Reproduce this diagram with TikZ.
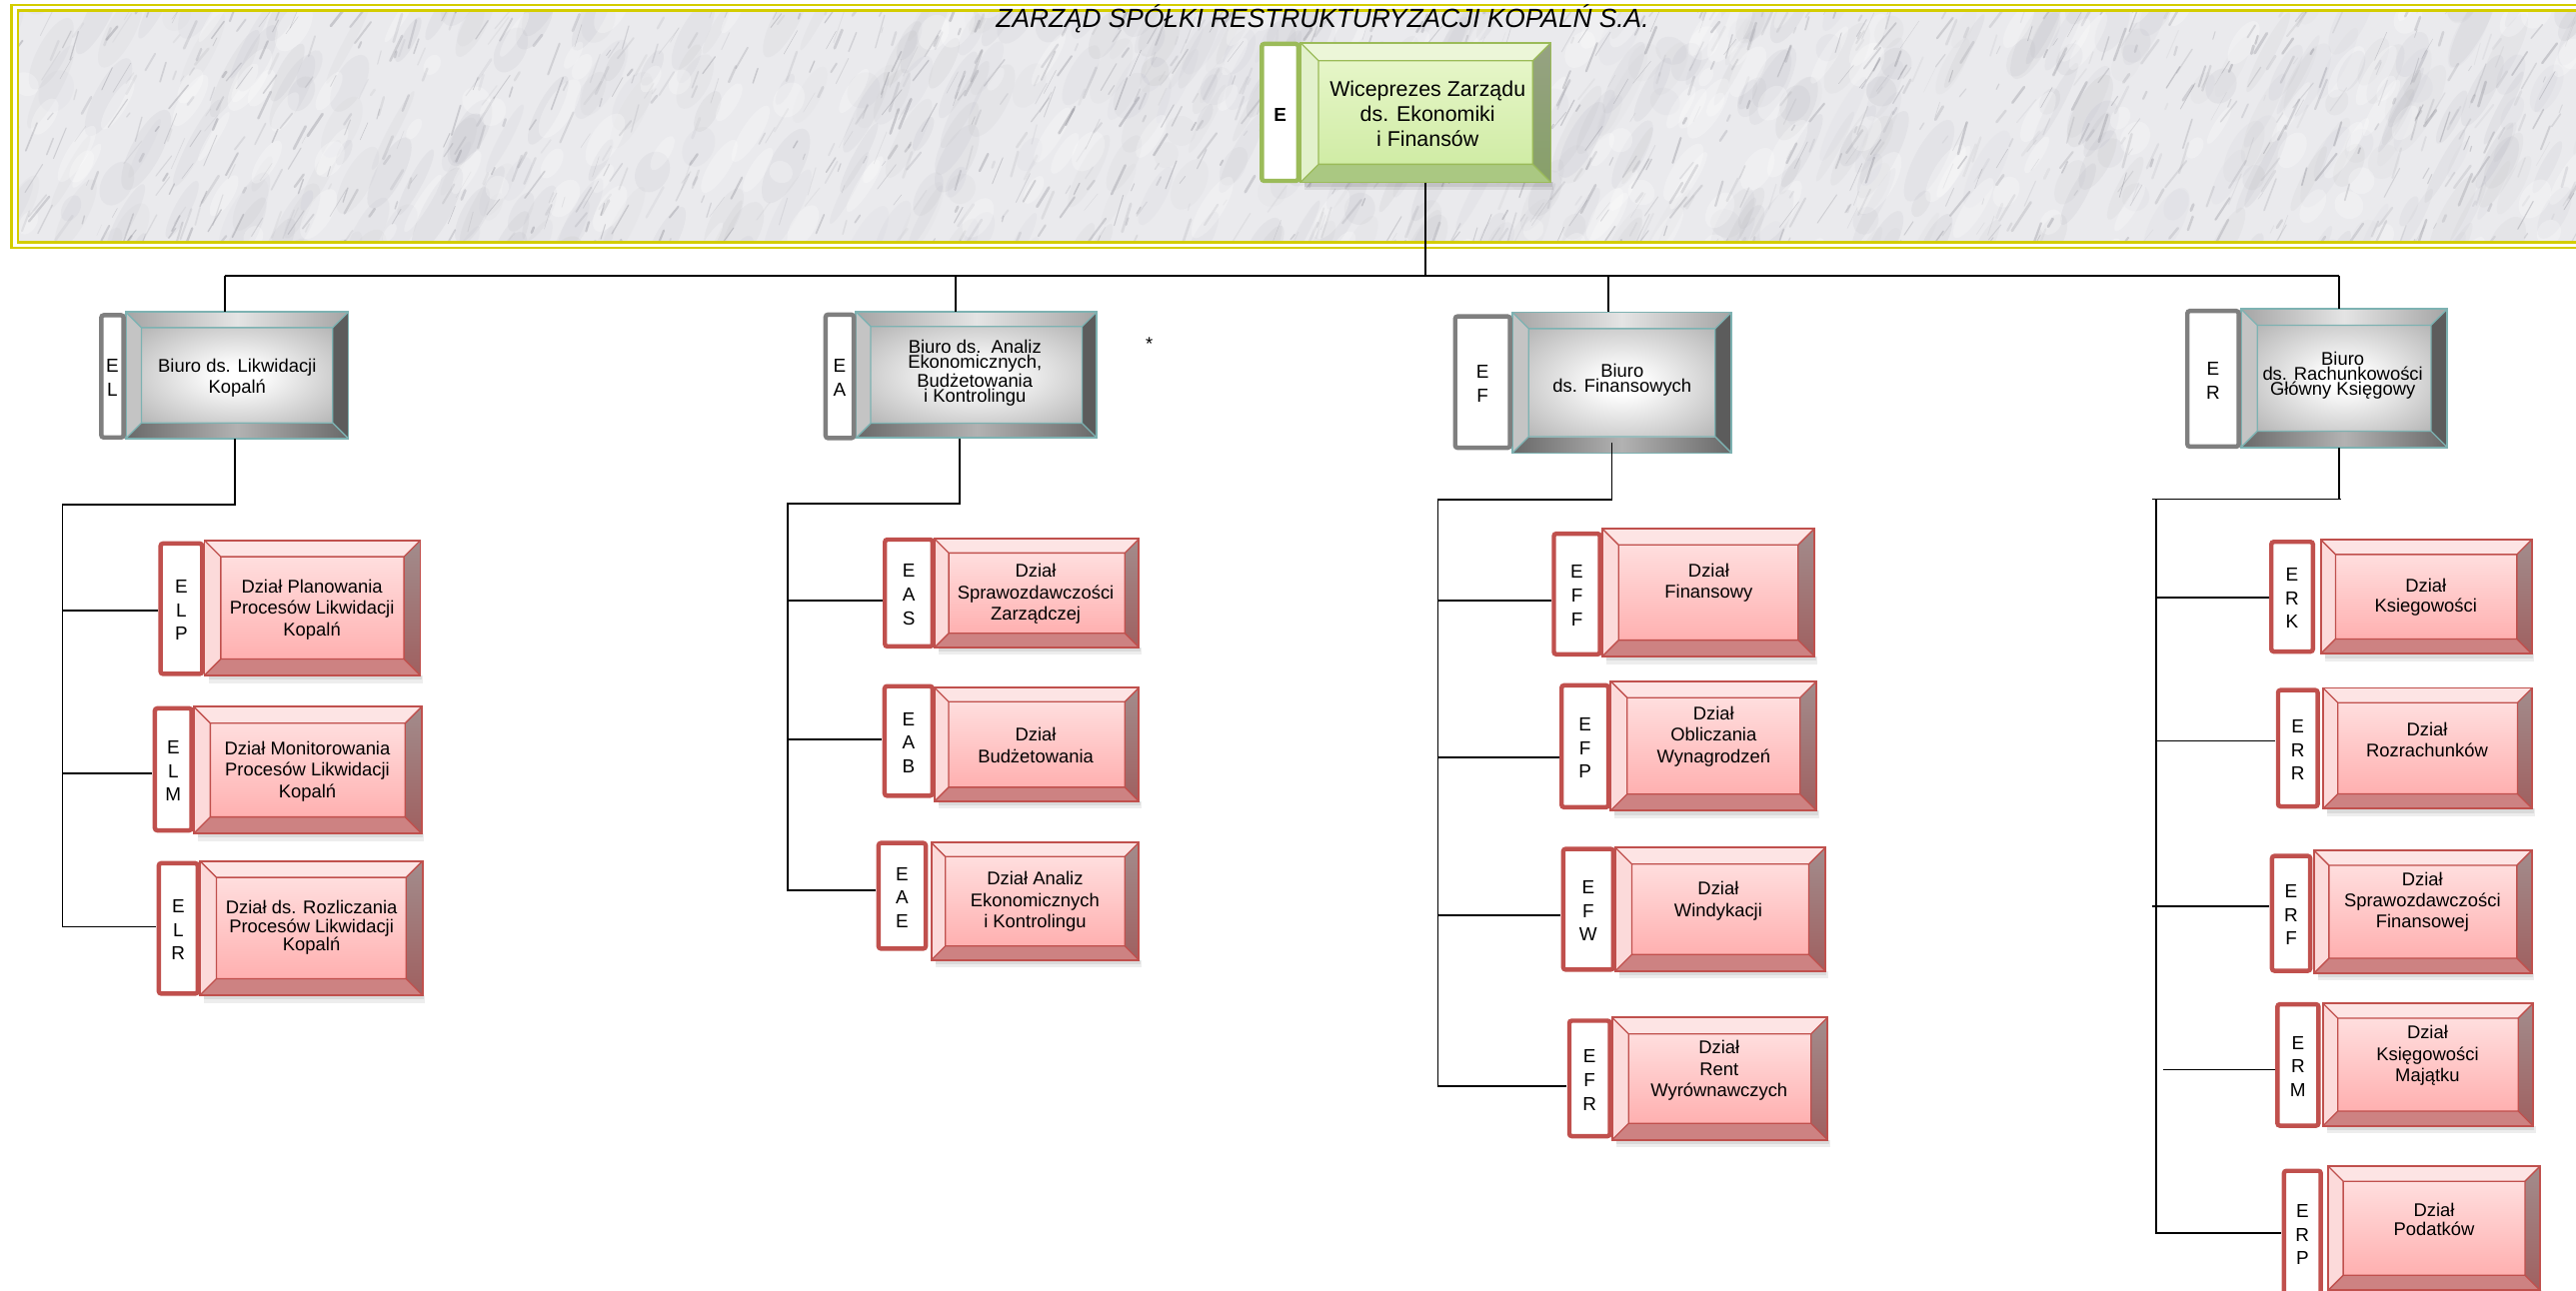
\documentclass[tikz,border=0pt]{standalone}
\usepackage{fontspec}
\setmainfont{Liberation Sans}
\usetikzlibrary{fit,calc}

\definecolor{ylw}{RGB}{212,205,0}
\definecolor{marbleBase}{RGB}{234,234,237}
\definecolor{marbleCloud}{RGB}{165,165,175}
\definecolor{marbleVein}{RGB}{115,115,125}
% red palette
\definecolor{rTop}{RGB}{253,228,228}
\definecolor{rLeft}{RGB}{252,218,218}
\definecolor{rRightT}{RGB}{162,140,140}
\definecolor{rRightB}{RGB}{160,96,96}
\definecolor{rBot}{RGB}{205,130,130}
\definecolor{rFaceT}{RGB}{255,222,222}
\definecolor{rFaceB}{RGB}{255,176,176}
\definecolor{rLine}{RGB}{192,80,77}
% gray palette
\definecolor{gTopS}{RGB}{165,165,165}
\definecolor{gTopM}{RGB}{228,228,228}
\definecolor{gLeft}{RGB}{196,196,196}
\definecolor{gRight}{RGB}{92,92,92}
\definecolor{gBotS}{RGB}{105,105,105}
\definecolor{gBotM}{RGB}{178,178,178}
\definecolor{gFaceM}{RGB}{185,185,185}
\definecolor{gFaceO}{RGB}{150,150,150}
\definecolor{gLine}{RGB}{125,178,178}
\definecolor{gLab}{RGB}{127,127,127}
% green palette
\definecolor{vTop}{RGB}{236,246,216}
\definecolor{vLeft}{RGB}{226,241,203}
\definecolor{vRightT}{RGB}{150,162,130}
\definecolor{vRightB}{RGB}{135,160,105}
\definecolor{vBot}{RGB}{170,200,130}
\definecolor{vFaceT}{RGB}{230,246,200}
\definecolor{vFaceB}{RGB}{208,236,165}
\definecolor{vLine}{RGB}{155,187,89}

\pgfdeclareradialshading{grayface}{\pgfpoint{0bp}{0bp}}{%
  color(0bp)=(white); color(5bp)=(white); color(34bp)=(gFaceM); color(50bp)=(gFaceO)}

\tikzset{
  conn/.style={draw=black,line width=1.1pt},
  btxt/.style={font=\fontsize{11.2}{#1}\selectfont,align=center,inner sep=0pt,text=black},
  btxt/.default=13.2,
  lettr/.style={font=\fontsize{11.5}{14.4}\selectfont,align=center,inner sep=0pt},
  red-top/.style={fill=rTop}, red-left/.style={fill=rLeft},
  red-right/.style={top color=rRightT,bottom color=rRightB},
  red-bottom/.style={fill=rBot},
  red-face/.style={top color=rFaceT,bottom color=rFaceB},
  red-line/.style={draw=rLine}, red-lab/.style={draw=rLine},
  gray-top/.style={left color=gTopS,right color=gTopS,middle color=gTopM},
  gray-left/.style={fill=gLeft}, gray-right/.style={fill=gRight},
  gray-bottom/.style={left color=gBotS,right color=gBotS,middle color=gBotM},
  gray-face/.style={shade,shading=grayface},
  gray-line/.style={draw=gLine}, gray-lab/.style={draw=gLab},
  green-top/.style={fill=vTop}, green-left/.style={fill=vLeft},
  green-right/.style={top color=vRightT,bottom color=vRightB},
  green-bottom/.style={fill=vBot},
  green-face/.style={top color=vFaceT,bottom color=vFaceB},
  green-line/.style={draw=vLine}, green-lab/.style={draw=vLine},
}

% #1 name, #2 palette, #3 x1, #4 y1, #5 x2, #6 y2, #7 inset, #8 shadow
\newcommand\bevelbox[8]{%
  \ifnum #8>0 \relax
    \fill[black,opacity=0.07] (#3+2.5,#6) rectangle (#5+1.6,#6+4.6);
    \fill[black,opacity=0.08] (#3+2.5,#6) rectangle (#5+0.8,#6+2.6);
  \fi
  \path[#2-top] (#3,#4) -- (#5,#4) -- (#5-#7,#4+#7) -- (#3+#7,#4+#7) -- cycle;
  \path[#2-bottom] (#3,#6) -- (#5,#6) -- (#5-#7,#6-#7) -- (#3+#7,#6-#7) -- cycle;
  \path[#2-left] (#3,#4) -- (#3+#7,#4+#7) -- (#3+#7,#6-#7) -- (#3,#6) -- cycle;
  \path[#2-right] (#5,#4) -- (#5-#7,#4+#7) -- (#5-#7,#6-#7) -- (#5,#6) -- cycle;
  \path[#2-face] (#3+#7,#4+#7) rectangle (#5-#7,#6-#7);
  \draw[#2-line,line width=0.8pt] (#3+#7,#4+#7) rectangle (#5-#7,#6-#7)
     (#3,#4) -- (#3+#7,#4+#7) (#5,#4) -- (#5-#7,#4+#7)
     (#3,#6) -- (#3+#7,#6-#7) (#5,#6) -- (#5-#7,#6-#7);
  \draw[#2-line,line width=1.1pt] (#3,#4) rectangle (#5,#6);
  \node[fit={(#3,#4)(#5,#6)},inner sep=0pt] (#1) {};
}
% #1 name, #2 palette, #3 x1, #4 y1, #5 x2, #6 y2, #7 letters
\newcommand\labbox[7]{%
  \draw[#2-lab,fill=white,line width=2.7pt,rounded corners=1.5pt]
     (#3+1.35,#4+1.35) rectangle (#5-1.35,#6-1.35);
  \node[fit={(#3,#4)(#5,#6)},inner sep=0pt] (#1) {};
  \node[lettr] (#1T) at ($(#1.center)+(0,1)$) {#7};
}

\begin{document}
\begin{tikzpicture}[x=1pt,y=-1pt]
\useasboundingbox (0,0) rectangle (1568,786);
\fill[white] (0,0) rectangle (1568,786);

% ---------- banner ----------
\draw[ylw,line width=1.6pt] (7,3) rectangle (1585,151);
\begin{scope}
  \clip (11,6.5) rectangle (1580,147.5);
  \fill[marbleBase] (11,6.5) rectangle (1580,147.5);
  \pgfmathsetseed{27182}
  \foreach \k in {1,...,450}{
    \pgfmathsetmacro\xa{-20+rnd*1620}
    \pgfmathsetmacro\ya{rnd*165}
    \pgfmathsetmacro\ra{8+rnd*22}
    \pgfmathsetmacro\rb{3+rnd*7}
    \pgfmathsetmacro\vo{0.04+rnd*0.08}
    \fill[marbleCloud,opacity=\vo] (\xa,\ya) ellipse [x radius=\ra, y radius=\rb, rotate=62];
  }
  \foreach \k in {1,...,170}{
    \pgfmathsetmacro\xa{rnd*1600}
    \pgfmathsetmacro\ya{rnd*160}
    \pgfmathsetmacro\ra{6+rnd*16}
    \pgfmathsetmacro\rb{3+rnd*6}
    \fill[white,opacity=0.25] (\xa,\ya) ellipse [x radius=\ra, y radius=\rb, rotate=58];
  }
  \foreach \k in {1,...,1300}{
    \pgfmathsetmacro\xa{-20+rnd*1620}
    \pgfmathsetmacro\ya{rnd*180}
    \pgfmathsetmacro\vl{3+rnd*18}
    \pgfmathsetmacro\va{-(50+rnd*25)}
    \pgfmathsetmacro\lw{0.3+rnd*1.4}
    \pgfmathsetmacro\vo{0.06+rnd*0.24}
    \draw[draw=marbleVein,line width=\lw pt,opacity=\vo,line cap=round] (\xa,\ya) -- ++(\va:\vl);
  }
\end{scope}
\draw[ylw,line width=1.6pt] (11,6.5) rectangle (1580,147.5);

\node[font=\fontsize{16}{18}\selectfont\itshape,anchor=base,inner sep=0pt] (title) at (805,16.6)
  {ZARZĄD SPÓŁKI RESTRUKTURYZACJI KOPALŃ S.A.};

% ---------- top box ----------
\bevelbox{E}{green}{791.6}{26}{944}{111}{11}{1}
\labbox{EL0}{green}{766.7}{25.4}{791.6}{111.5}{}
\node[font=\fontsize{11.5}{14}\selectfont\bfseries,inner sep=0pt] (Eletter) at (779.2,70) {E};
\node[font=\fontsize{13}{15}\selectfont,align=center,inner sep=0pt] (Etext) at (869,69.2)
  {Wiceprezes Zarządu\\ds. Ekonomiki\\i Finansów};

% ---------- level 2 (gray) ----------
\bevelbox{el}{gray}{76.6}{190}{212}{267}{9.5}{0}
\labbox{elL}{gray}{60.3}{190.6}{76.6}{267.7}{E\\L}
\node[btxt=12.8] (elT) at (144.4,229.9) {Biuro ds. Likwidacji\\Kopalń};

\bevelbox{ea}{gray}{521}{189.8}{667.7}{266.7}{9}{0}
\labbox{eaL}{gray}{501.2}{190.2}{521}{268.1}{E\\A}
\node[btxt=8] (eaT) at (593.4,226.9) {Biuro ds.\ \ Analiz\\Ekonomicznych,\\Budżetowania\\i Kontrolingu};

\bevelbox{ef}{gray}{920.5}{190.1}{1054}{275.9}{10}{0}
\labbox{efL}{gray}{884.4}{191.3}{920.5}{274}{E\\F}
\node[btxt=8.2] (efT) at (987.4,231.5) {Biuro\\ds. Finansowych};

\bevelbox{er}{gray}{1364}{188}{1489.7}{272.5}{10}{0}
\labbox{erL}{gray}{1330.1}{188}{1364}{273.3}{E\\R}
\node[btxt=8.2] (erT) at (1426,228.7) {Biuro\\ds. Rachunkowości\\Główny Księgowy};

\node[font=\fontsize{11.2}{13}\selectfont,anchor=base,inner sep=0pt] (star) at (699.5,213.4) {*};

% ---------- EL column ----------
\bevelbox{elp}{red}{124.4}{329}{255.9}{411.3}{10}{1}
\labbox{elpL}{red}{96.4}{329.6}{124.4}{411.7}{E\\L\\P}
\node[btxt=13.2] (elpT) at (189.9,371.2) {Dział Planowania\\Procesów Likwidacji\\Kopalń};

\bevelbox{elm}{red}{118}{430.4}{256.6}{507.5}{10}{1}
\labbox{elmL}{red}{92.9}{430}{118}{507}{E\\L\\M}
\node[btxt=13] (elmT) at (187.1,469.7) {Dział Monitorowania\\Procesów Likwidacji\\Kopalń};

\bevelbox{elr}{red}{121.7}{524.3}{257.2}{606}{10}{1}
\labbox{elrL}{red}{95.3}{524.3}{121.7}{606.4}{E\\L\\R}
\node[btxt=11.2] (elrT) at (189.6,564.9) {Dział ds. Rozliczania\\Procesów Likwidacji\\Kopalń};

% ---------- EA column ----------
\bevelbox{eas}{red}{569}{328.2}{693.2}{394.1}{8.5}{1}
\labbox{easL}{red}{537.3}{327.2}{569}{395}{E\\A\\S}
\node[btxt=13.2] (easT) at (630.4,361.7) {Dział\\Sprawozdawczości\\Zarządczej};

\bevelbox{eab}{red}{568.9}{418.8}{693.2}{487.9}{8.5}{1}
\labbox{eabL}{red}{537.1}{416.5}{568.9}{485.9}{E\\A\\B}
\node[btxt=13.1] (eabT) at (630.4,453.8) {Dział\\Budżetowania};

\bevelbox{eae}{red}{566.9}{513.1}{693.2}{584.6}{8.5}{1}
\labbox{eaeL}{red}{533.4}{512}{564.8}{579}{E\\A\\E}
\node[btxt=13.2] (eaeT) at (630,549) {Dział Analiz\\Ekonomicznych\\i Kontrolingu};

% ---------- EF column ----------
\bevelbox{eff}{red}{975.2}{321.8}{1104.5}{399.8}{10}{1}
\labbox{effL}{red}{944.5}{323.6}{975.2}{399.8}{E\\F\\F}
\node[btxt=12.8] (effT) at (1040.1,354.9) {Dział\\Finansowy};

\bevelbox{efp}{red}{980.4}{414.8}{1105.7}{493.6}{10}{1}
\labbox{efpL}{red}{949.2}{416}{980.4}{492.9}{E\\F\\P}
\node[btxt=13.2] (efpT) at (1043.1,448.5) {Dział\\Obliczania\\Wynagrodzeń};

\bevelbox{efw}{red}{983.3}{516.2}{1111}{591.2}{10}{1}
\labbox{efwL}{red}{950.2}{515.6}{983.3}{591.8}{E\\F\\W}
\node[btxt=13.4] (efwT) at (1045.9,548.6) {Dział\\Windykacji};

\bevelbox{efr}{red}{981.3}{619.6}{1112.4}{694.1}{10}{1}
\labbox{efrL}{red}{953.9}{620.2}{981.3}{693.2}{E\\F\\R}
\node[btxt=13] (efrT) at (1046.4,651.9) {Dział\\Rent\\Wyrównawczych};

% ---------- ER column ----------
\bevelbox{erk}{red}{1412.6}{328.6}{1541}{398.1}{9}{1}
\labbox{erkL}{red}{1381.2}{328.6}{1409.2}{398.1}{E\\R\\K}
\node[btxt=12.2] (erkT) at (1476.6,363.8) {Dział\\Ksiegowości};

\bevelbox{err}{red}{1414}{418.9}{1541.4}{492.4}{9}{1}
\labbox{errL}{red}{1385.3}{418.9}{1412.1}{492.4}{E\\R\\R}
\node[btxt=12.9] (errT) at (1477.3,450.6) {Dział\\Rozrachunków};

\bevelbox{erf}{red}{1408.6}{517.9}{1541}{592.5}{9}{1}
\labbox{erfL}{red}{1381.6}{519.9}{1407.6}{592.5}{E\\R\\F}
\node[btxt=12.7] (erfT) at (1474.5,549.5) {Dział\\Sprawozdawczości\\Finansowej};

\bevelbox{erm}{red}{1414}{611}{1541.8}{685.6}{9}{1}
\labbox{ermL}{red}{1384.9}{610.2}{1412.6}{686.8}{E\\R\\M}
\node[btxt=13.2] (ermT) at (1477.6,642.8) {Dział\\Księgowości\\Majątku};

\bevelbox{erp}{red}{1417.3}{710.3}{1545.9}{785.5}{9}{1}
\labbox{erpL}{red}{1388.9}{711.6}{1414}{790}{E\\R\\P}
\node[btxt=11.7] (erpT) at (1481.6,742.6) {Dział\\Podatków};

% ---------- connectors ----------
\coordinate (busL) at (137,168);
\coordinate (busA) at (581.7,168);
\coordinate (busF) at (978.8,168);
\coordinate (busR) at (1423.8,168);
\draw[conn] (busL) -- (busR);
\draw[conn] (E.south) -- (E.south |- busL);
\draw[conn] (busL) -- (busL |- el.north);
\draw[conn] (busA) -- (busA |- ea.north);
\draw[conn] (busF) -- (busF |- ef.north);
\draw[conn] (busR) -- (busR |- er.north);

\coordinate (elB) at (143,307.3);
\coordinate (elpC) at (38,371.6);
\coordinate (elmC) at (38,471);
\coordinate (elrC) at (38,564.3);
\draw[conn] (elB |- el.south) -- (elB) -| (elrC) -- (elrC -| elrL.west);
\draw[conn] (elpC) -- (elpC -| elpL.west);
\draw[conn] (elmC) -- (elmC -| elmL.west);

\coordinate (eaB) at (584,306.7);
\coordinate (easC) at (479.5,365.5);
\coordinate (eabC) at (479.5,450.3);
\coordinate (eaeC) at (479.5,542.2);
\draw[conn] (eaB |- ea.south) -- (eaB) -| (eaeC) -- (eaeC -| eaeL.west);
\draw[conn] (easC) -- (easC -| easL.west);
\draw[conn] (eabC) -- (eabC -| eabL.west);

\coordinate (efB) at (981.1,304.2);
\coordinate (effC) at (875.2,365.5);
\coordinate (efpC) at (875.2,461);
\coordinate (efwC) at (875.2,557.4);
\coordinate (efrC) at (875.2,661.6);
\draw[conn] ($(efB |- ef.south)+(0,-6.6)$) -- (efB) -| (efrC) -- (efrC -| efrL.west);
\draw[conn] (effC) -- (effC -| effL.west);
\draw[conn] (efpC) -- (efpC -| efpL.west);
\draw[conn] (efwC) -- (efwC -| efwL.west);

\coordinate (erB) at (1423.8,303.9);
\coordinate (erH) at (1309.8,303.9);
\coordinate (erS) at (1312.3,303.9);
\coordinate (erkC) at (1312.3,364);
\coordinate (errC) at (1312.3,451.2);
\coordinate (erfC) at (1309.8,552.1);
\coordinate (ermC) at (1316.7,651.4);
\coordinate (erpC) at (1312.3,750.8);
\draw[conn] (erB |- er.south) -- (erB);
\draw[conn] (erH) -- ($(erB)+(1,0)$);
\draw[conn] (erS) -- (erpC) -- (erpC -| erpL.west);
\draw[conn] (erkC) -- (erkC -| erkL.west);
\draw[conn] (errC) -- (errC -| errL.west);
\draw[conn] (erfC) -- (erfC -| erfL.west);
\draw[conn] (ermC) -- (ermC -| ermL.west);
\end{tikzpicture}
\end{document}
